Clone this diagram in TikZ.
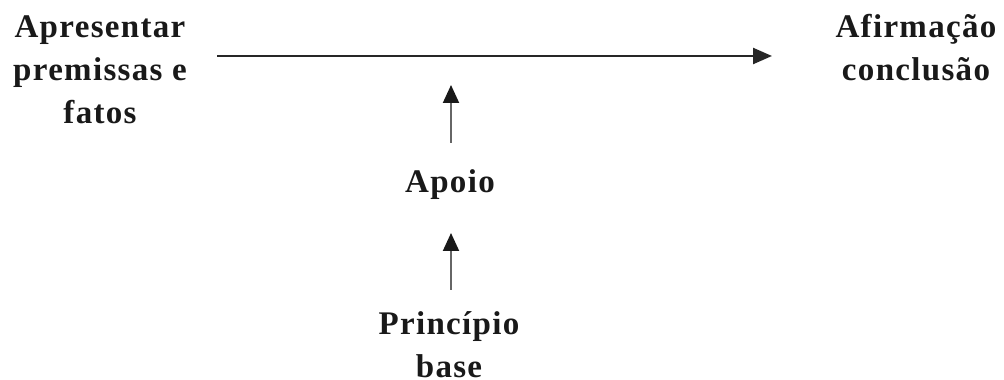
\documentclass[tikz,border=0pt]{standalone}
\usepackage{fontspec}
\setmainfont{Liberation Serif}[LetterSpace=4]
\usetikzlibrary{arrows.meta}
\begin{document}
\begin{tikzpicture}[x=1pt,y=1pt,
  lbl/.style={inner sep=0pt, align=center, anchor=base, text=black!90,
    font=\fontsize{33}{43}\selectfont\bfseries},
  harrow/.style={line width=2.4pt, draw=black!85, -{Triangle[length=19pt,width=16pt]}},
  varrow/.style={line width=2pt, draw=black!60, -{Triangle[length=18pt,width=16pt,fill=black!90,color=black!90]}}]
\useasboundingbox (0,0) rectangle (1004,380);
\node[lbl] (prem) at (100,256) {Apresentar\\premissas e\\fatos};
\node[lbl] (afirm) at (916,299) {Afirmação\\conclusão};
\node[lbl] (apoio) at (450,187) {Apoio};
\node[lbl] (princ) at (449,2) {Princípio\\base};
\coordinate (hs) at (217,324);
\coordinate (he) at (772,324);
\coordinate (v1s) at (451,237);
\coordinate (v1e) at (451,295);
\coordinate (v2s) at (451,90);
\coordinate (v2e) at (451,147);
\draw[harrow] (hs) -- (he);
\draw[varrow] (v1s) -- (v1e);
\draw[varrow] (v2s) -- (v2e);
\end{tikzpicture}
\end{document}
